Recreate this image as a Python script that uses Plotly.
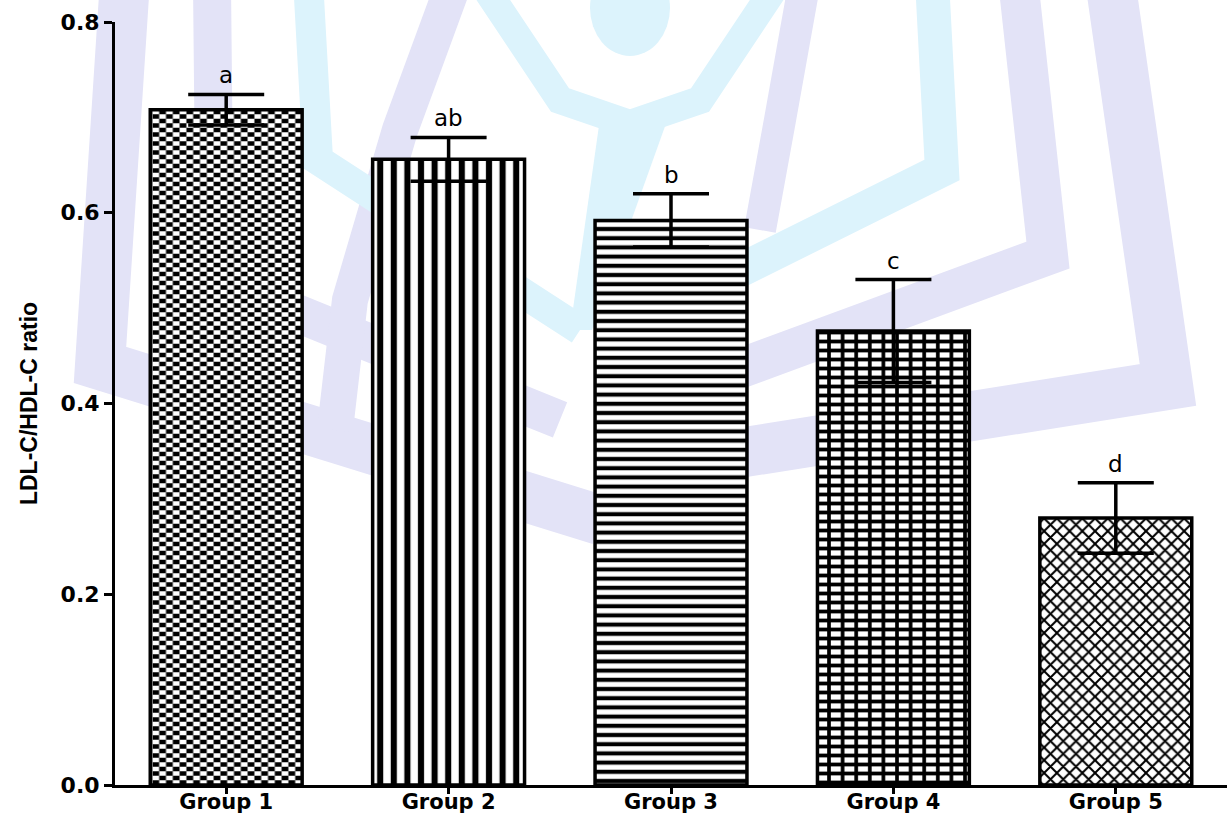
import plotly.graph_objects as go

# ---- data -------------------------------------------------------------
groups = ["Group 1", "Group 2", "Group 3", "Group 4", "Group 5"]
ratio_mean = [0.708, 0.656, 0.592, 0.476, 0.280]
ratio_sem = [0.016, 0.023, 0.028, 0.054, 0.037]
sig_letters = ["a", "ab", "b", "c", "d"]
y_ticks = [0.0, 0.2, 0.4, 0.6, 0.8]

W, H = 1227, 815
M_L, M_R, M_T, M_B = 115, 0, 22, 30
CLEAR = "rgba(0,0,0,0)"
BOLD_FONT = "DejaVu Sans"

fig = go.Figure()


def pattern_bar(i, shape, size, solidity, fg="black", bg="white", name=None):
    fig.add_trace(go.Bar(
        x=[groups[i]], y=[ratio_mean[i]],
        marker=dict(color=bg, line=dict(width=0),
                    pattern=dict(shape=shape, size=size, solidity=solidity,
                                 fgcolor=fg, bgcolor=bg, fillmode="replace")),
        name=name or groups[i], showlegend=False, hoverinfo="skip"))


# Group 1: checkerboard = horizontal stripes XOR vertical white stripes
pattern_bar(0, "-", 9, 0.5)
pattern_bar(0, "|", 13.6, 0.5, fg="white", bg=CLEAR, name="checker")
# Group 2: vertical stripes
pattern_bar(1, "|", 13.6, 0.45)
# Group 3: horizontal stripes
pattern_bar(2, "-", 9.2, 0.45)
# Group 4: rectangular grid (horizontal + vertical lines)
pattern_bar(3, "-", 9, 0.42)
pattern_bar(3, "|", 13.6, 0.27, bg=CLEAR)
# Group 5: diagonal crosshatch
pattern_bar(4, "x", 9, 0.4)

# outlines + SEM error bars on top of all fills
fig.add_trace(go.Bar(
    x=groups, y=ratio_mean,
    marker=dict(color=CLEAR, line=dict(color="black", width=3.5)),
    error_y=dict(type="data", array=ratio_sem, visible=True,
                 color="black", thickness=3.5, width=38),
    showlegend=False, hoverinfo="skip"))

# significance letters above the error caps
for g, m, s, lab in zip(groups, ratio_mean, ratio_sem, sig_letters):
    fig.add_annotation(x=g, y=m + s, text=lab, showarrow=False,
                       xref="x", yref="y", yanchor="bottom", yshift=4,
                       font=dict(family="DejaVu Sans", size=23, color="black"))

# faint background logo (light lavender / cyan bands)
pw, ph = W - M_L - M_R, H - M_T - M_B


def to_paper(px, py):
    return (px - M_L) / pw, (H - M_B - py) / ph


def px_path(pts, close=False):
    d = []
    for k, (px, py) in enumerate(pts):
        xp, yp = to_paper(px, py)
        d.append(("M" if k == 0 else "L") + f"{xp:.4f},{yp:.4f}")
    return " ".join(d) + (" Z" if close else "")


LAV = "rgb(227,227,247)"
CYA = "rgb(220,243,252)"
bands = [
    ([(1110, -20), (1168, 385), (600, 475)], LAV, 50),
    ([(125, -20), (100, 365), (600, 520)], LAV, 50),
    ([(1018, -20), (1048, 255), (600, 420)], LAV, 40),
    ([(212, -20), (215, 280), (560, 420)], LAV, 38),
    ([(455, -20), (400, 130), (350, 300), (335, 430)], LAV, 36),
    ([(805, -20), (780, 120), (760, 230)], LAV, 32),
    ([(932, -20), (942, 170), (600, 340)], CYA, 34),
    ([(308, -20), (318, 160), (580, 330)], CYA, 30),
    ([(480, -20), (560, 100), (630, 124), (700, 100), (780, -20)], CYA, 28),
]
for pts, col, wid in bands:
    fig.add_shape(type="path", path=px_path(pts), xref="paper", yref="paper",
                  line=dict(color=col, width=wid), layer="below")
# figure's body and head
fig.add_shape(type="path", xref="paper", yref="paper", layer="below",
              path=px_path([(600, 118), (668, 118), (592, 330), (570, 330)],
                           close=True),
              fillcolor=CYA, line=dict(width=0))
hx0, hy0 = to_paper(590, 56)
hx1, hy1 = to_paper(670, -40)
fig.add_shape(type="circle", xref="paper", yref="paper", layer="below",
              x0=hx0, x1=hx1, y0=hy0, y1=hy1,
              fillcolor=CYA, line=dict(width=0))

fig.update_layout(
    width=W, height=H, barmode="overlay", bargap=0.317,
    margin=dict(l=M_L, r=M_R, t=M_T, b=M_B, pad=0),
    plot_bgcolor="white", paper_bgcolor="white",
    xaxis=dict(range=[-0.5, 4.5], showline=True, linecolor="black",
               linewidth=3, ticks="outside", ticklen=6, tickwidth=3,
               tickcolor="black", showgrid=False, zeroline=False,
               automargin=False, ticklabelstandoff=-10,
               tickfont=dict(family=BOLD_FONT, size=21, color="black",
                             weight="bold")),
    yaxis=dict(range=[0, 0.8], tickvals=y_ticks, tickformat=".1f",
               showline=True, linecolor="black", linewidth=3,
               ticks="outside", ticklen=8, tickwidth=3, tickcolor="black",
               showgrid=False, zeroline=False, automargin=False,
               tickfont=dict(family=BOLD_FONT, size=22, color="black",
                             weight="bold"),
               title=dict(text="LDL-C/HDL-C ratio", standoff=17,
                          font=dict(family="Liberation Sans", size=23,
                                    color="black", weight="bold"))),
)

# difference blending turns the stacked stripes of Group 1 into a checkerboard
blend_js = """
var gd = document.getElementById('{plot_id}');
function applyBlend() {
  var traces = gd.querySelectorAll('.barlayer .trace');
  if (traces.length > 1) { traces[1].style.mixBlendMode = 'difference'; }
}
applyBlend();
gd.on('plotly_afterplot', applyBlend);
"""

fig.write_html("out.html", post_script=blend_js,
               config={"displayModeBar": False})
